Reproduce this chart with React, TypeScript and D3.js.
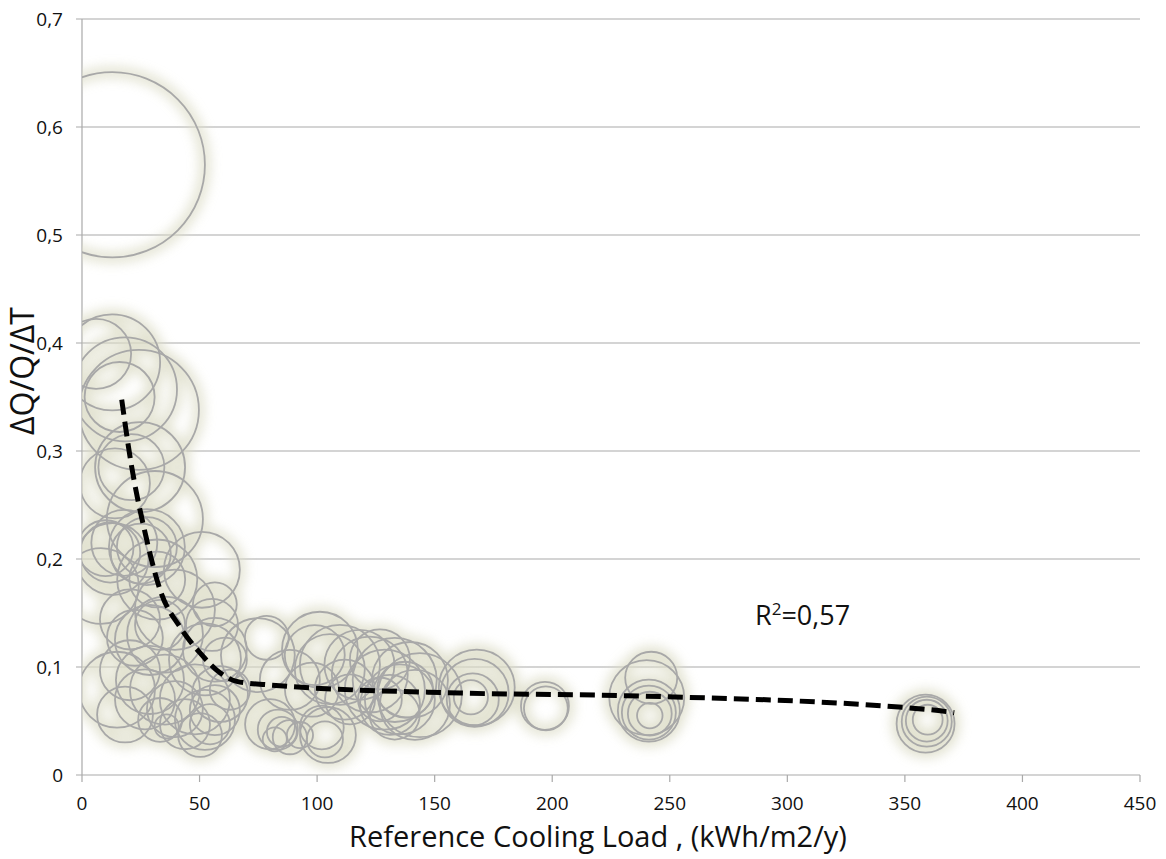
import React from "react";
import * as d3 from "d3";

// bubble data: reference cooling load (kWh/m2/y), dQ/Q/dT, bubble size
const loadX = [
  12.9, 12.8, 18.3, 24.2, 16, 6,
  24.7, 21, 14, 31, 51, 12, 13, 10, 18, 25, 27.6, 27.6, 32, 32, 8,
  39.5, 35.3, 56.5, 55.3, 56.5, 52.3, 60.8, 22.5, 20.4, 28.9, 33.2,
  14.9, 20.4, 28.9, 26.8, 35.3, 39.5, 33.2, 36, 48, 52.3, 50.2, 56.5, 54.4, 58.7, 62.9, 43.8, 18.3,
  74.8, 78.6, 88.4, 83.3, 85, 80, 88.4, 82, 92.7, 99, 101.2, 105.4, 97.8, 104.6, 102, 103.3, 109.7, 111.8,
  118, 122.4, 126.7, 128.8, 133, 135.2, 137.4, 139.5, 141.6, 143.7, 131, 126.7, 133, 114,
  167.9, 167, 166.2, 165.4,
  196.9, 197.3,
  242.1, 240.2, 241.1, 241.1, 241.5, 241.5,
  358.8, 359.3, 359.3, 359.7,
];
const ratioY = [
  0.565, 0.382, 0.357, 0.338, 0.35, 0.39,
  0.285, 0.285, 0.27, 0.237, 0.19, 0.206, 0.2, 0.21, 0.215, 0.205, 0.211, 0.211, 0.181, 0.181, 0.175,
  0.153, 0.13, 0.158, 0.139, 0.116, 0.107, 0.107, 0.127, 0.144, 0.125, 0.139,
  0.079, 0.097, 0.088, 0.07, 0.079, 0.061, 0.051, 0.045, 0.07, 0.051, 0.037, 0.06, 0.047, 0.075, 0.079, 0.047, 0.056,
  0.111, 0.127, 0.088, 0.042, 0.04, 0.047, 0.035, 0.033, 0.037, 0.111, 0.116, 0.098, 0.079, 0.037, 0.044, 0.033, 0.102, 0.079,
  0.102, 0.093, 0.107, 0.079, 0.088, 0.07, 0.079, 0.088, 0.065, 0.074, 0.065, 0.07, 0.056, 0.07,
  0.081, 0.076, 0.07, 0.072,
  0.064, 0.0617,
  0.09, 0.0716, 0.0596, 0.0578, 0.0568, 0.055,
  0.0475, 0.0494, 0.0503, 0.0512,
];
const bubbleSize = [
  100, 26.9, 31.5, 42, 14.3, 14.3,
  23.6, 12.7, 14.3, 26.9, 16.8, 10.5, 15.1, 9.1, 12.7, 10.5, 10.5, 16.8, 18.7, 9.1, 16.8,
  18.7, 16.8, 5.6, 7.9, 11.9, 15.1, 5.6, 9.1, 10.5, 14.3, 7.3,
  16.8, 10.5, 13.5, 10.5, 14.3, 9.1, 5.6, 1.7, 14.3, 10.5, 5.6, 7.3, 4.7, 9.1, 4.7, 7.3, 9.1,
  15.9, 5.6, 10.5, 4.7, 2.6, 7.3, 3.4, 1.7, 2.0, 10.5, 16.8, 14.3, 8.5, 9.1, 5.6, 3.8, 18.7, 10.5,
  14.3, 16.8, 10.5, 18.7, 20.6, 14.3, 9.1, 16.8, 14.3, 20.6, 10.5, 5.6, 7.3, 7.3,
  16.8, 13.5, 7.9, 3.4,
  6.7, 5.6,
  7.9, 16.4, 11.2, 8.5, 5.6, 1.9,
  9.8, 7.3, 5.1, 2.6,
];

// trend line
const trendX = [16.9, 20.4, 27.5, 29.6, 33.2, 41.7, 50.2, 58.7, 65.8, 78.5, 160.7, 231.7, 360.5, 371];
const trendY = [0.3475, 0.295, 0.218, 0.199, 0.1715, 0.137, 0.113, 0.0947, 0.0867, 0.0836, 0.0759, 0.0734, 0.0605, 0.0577];

const xTicks = [0, 50, 100, 150, 200, 250, 300, 350, 400, 450];
const yTicks = [0, 0.1, 0.2, 0.3, 0.4, 0.5, 0.6, 0.7];

const W = 1166, H = 859;
const left = 82, right = 1140, top = 19, bottom = 775;
const FONT = "'Open Sans', 'Noto Sans', sans-serif";

export default function App() {
  const x = d3.scaleLinear().domain([0, 450]).range([left, right]);
  const y = d3.scaleLinear().domain([0, 0.7]).range([bottom, top]);
  const r = d3.scaleSqrt().domain([0, d3.max(bubbleSize) as number]).range([0, 92.6]);
  const fmt = (v: number) => (v === 0 ? "0" : d3.format(".1f")(v).replace(".", ","));

  const bubbles = loadX.map((lx, i) => ({ x: lx, y: ratioY[i], s: bubbleSize[i] }));
  const trend = trendX.map((tx, i) => [tx, trendY[i]] as [number, number]);
  const line = d3.line<[number, number]>()
    .x(d => x(d[0]))
    .y(d => y(d[1]))
    .curve(d3.curveMonotoneX);

  return (
    <svg width={W} height={H} style={{ position: "absolute", left: 0, top: 0, background: "#fff" }}>
      <defs>
        <clipPath id="plot">
          <rect x={left} y={top} width={right - left} height={bottom - top} />
        </clipPath>
        <filter id="glow" x="-10%" y="-10%" width="120%" height="120%">
          <feGaussianBlur stdDeviation="6" />
        </filter>
      </defs>

      {yTicks.map(t => (
        <g key={t}>
          <line x1={left - 6} x2={right} y1={y(t)} y2={y(t)} stroke="#a9a9a9" strokeWidth={1.2} />
          <text x={left - 19} y={y(t)} dy="0.35em" textAnchor="end" fontFamily={FONT} fontSize={19} fill="#111">
            {fmt(t)}
          </text>
        </g>
      ))}
      <line x1={left} x2={left} y1={top} y2={bottom} stroke="#a9a9a9" strokeWidth={1.2} />
      {xTicks.map(t => (
        <g key={t}>
          <line x1={x(t)} x2={x(t)} y1={bottom} y2={bottom + 7} stroke="#a9a9a9" strokeWidth={1.2} />
          <text x={x(t)} y={bottom + 35} textAnchor="middle" fontFamily={FONT} fontSize={19} fill="#111">
            {t}
          </text>
        </g>
      ))}

      <g clipPath="url(#plot)">
        <g filter="url(#glow)" opacity={0.8}>
          {bubbles.map((b, i) => (
            <circle key={i} cx={x(b.x)} cy={y(b.y)} r={r(b.s)} fill="none" stroke="#dcdcc6" strokeWidth={11} />
          ))}
        </g>
        {bubbles.map((b, i) => (
          <circle key={i} cx={x(b.x)} cy={y(b.y)} r={r(b.s)} fill="none" stroke="#a8a8a8" strokeWidth={1.8} />
        ))}
      </g>

      <path d={line(trend) ?? ""} fill="none" stroke="#000" strokeWidth={5} strokeDasharray="15 7" />

      <text x={755} y={625} fontFamily={FONT} fontSize={27} fill="#111">
        R<tspan dy={-10} fontSize={17}>2</tspan><tspan dy={10}>=0,57</tspan>
      </text>

      <text x={598} y={847} textAnchor="middle" fontFamily={FONT} fontSize={29} fill="#111">
        Reference Cooling Load , (kWh/m2/y)
      </text>
      <text transform={`translate(34, 371) rotate(-90)`} textAnchor="middle" fontFamily={FONT} fontSize={32} fill="#111">
        ΔQ/Q/ΔT
      </text>
    </svg>
  );
}
